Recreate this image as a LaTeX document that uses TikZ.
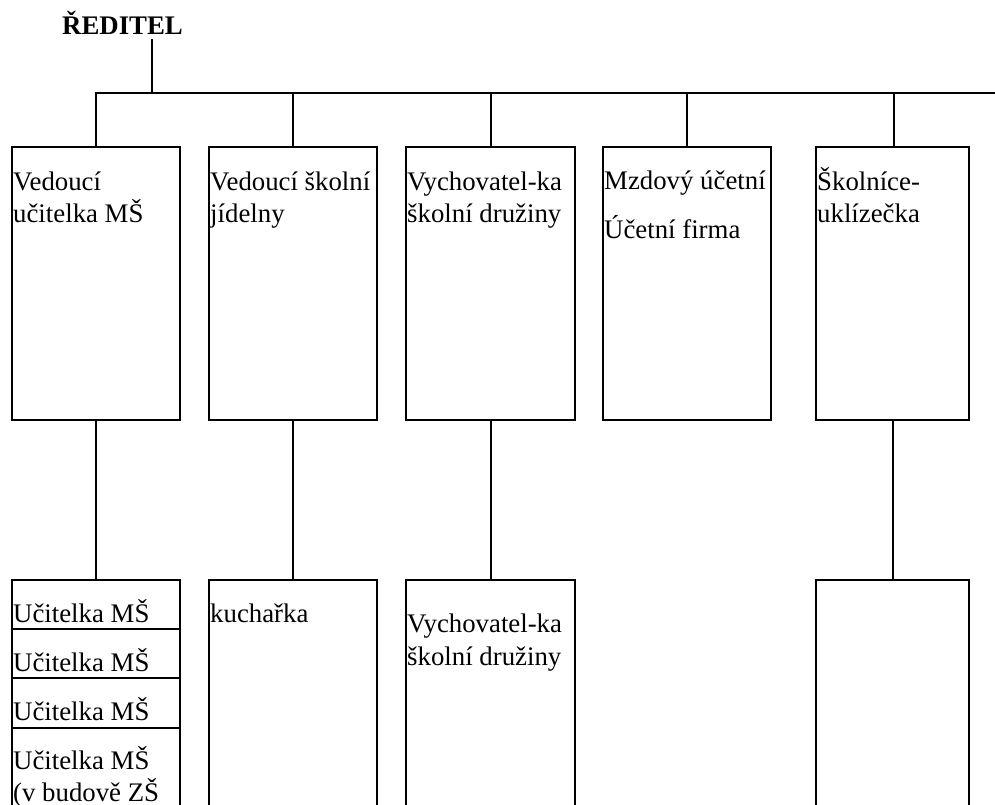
\documentclass[tikz,border=0pt]{standalone}
\usepackage{fontspec}
\setmainfont{Liberation Serif}
\tikzset{
  box/.style={draw, line width=2pt, inner sep=0pt, anchor=center},
  txt/.style={anchor=base west, inner sep=0pt, font=\fontsize{26.8}{32}\selectfont},
  conn/.style={line width=2pt}
}
\begin{document}
\begin{tikzpicture}[x=1pt,y=-1pt]
\useasboundingbox (0,0) rectangle (995,804);
\clip (0,0) rectangle (995,804);
% director
\node[txt, inner ysep=5pt, font=\fontsize{26.8}{32}\selectfont\bfseries] (r) at (62,34) {ŘEDITEL};
\coordinate (rj) at (152,93);
\coordinate (busend) at (996,93);
% upper boxes
\node[box, minimum width=168pt, minimum height=273pt] (b1) at (96,283.5) {};
\node[box, minimum width=168pt, minimum height=273pt] (b2) at (293,283.5) {};
\node[box, minimum width=169pt, minimum height=273pt] (b3) at (490.5,283.5) {};
\node[box, minimum width=168pt, minimum height=273pt] (b4) at (687,283.5) {};
\node[box, minimum width=153pt, minimum height=273pt] (b5) at (892.5,283.5) {};
% upper texts
\node[txt] (t1a) at (13,190) {Vedoucí};
\node[txt] (t1b) at (13,222) {učitelka MŠ};
\node[txt] (t2a) at (210,190) {Vedoucí školní};
\node[txt] (t2b) at (210,222) {jídelny};
\node[txt] (t3a) at (407,190) {Vychovatel-ka};
\node[txt] (t3b) at (407,222) {školní družiny};
\node[txt] (t4a) at (604,189) {Mzdový účetní};
\node[txt] (t4b) at (604,238) {Účetní firma};
\node[txt] (t5a) at (817,190) {Školníce-};
\node[txt] (t5b) at (817,222) {uklízečka};
% lower boxes
\node[box, minimum width=168pt, minimum height=49pt] (l1a) at (96,604.5) {};
\node[box, minimum width=168pt, minimum height=49pt] (l1b) at (96,653.5) {};
\node[box, minimum width=168pt, minimum height=50pt] (l1c) at (96,703) {};
\node[box, minimum width=168pt, minimum height=172pt] (l1d) at (96,814) {};
\node[box, minimum width=168pt, minimum height=320pt] (l2) at (293,740) {};
\node[box, minimum width=169pt, minimum height=320pt] (l3) at (490.5,740) {};
\node[box, minimum width=153pt, minimum height=320pt] (l5) at (892.5,740) {};
% lower texts
\node[txt] (u1) at (13,622) {Učitelka MŠ};
\node[txt] (u2) at (13,671) {Učitelka MŠ};
\node[txt] (u3) at (13,720) {Učitelka MŠ};
\node[txt] (u4) at (13,769) {Učitelka MŠ};
\node[txt] (u5) at (13,801) {(v budově ZŠ};
\node[txt] (k1) at (210,622) {kuchařka};
\node[txt] (v1) at (407,632) {Vychovatel-ka};
\node[txt] (v2) at (407,665) {školní družiny};
% connectors
\draw[conn] (rj |- r.south) -- (rj);
\draw[conn] (b1.north) -- (b1.north |- rj) -- (busend);
\draw[conn] (b2.north |- rj) -- (b2.north);
\draw[conn] (b3.north |- rj) -- (b3.north);
\draw[conn] (b4.north |- rj) -- (b4.north);
\draw[conn] ([xshift=1.5pt]b5.north |- rj) -- ([xshift=1.5pt]b5.north);
\draw[conn] (b1.south) -- (l1a.north);
\draw[conn] (b2.south) -- (l2.north);
\draw[conn] (b3.south) -- (l3.north);
\draw[conn] (b5.south) -- (l5.north);
\end{tikzpicture}
\end{document}
